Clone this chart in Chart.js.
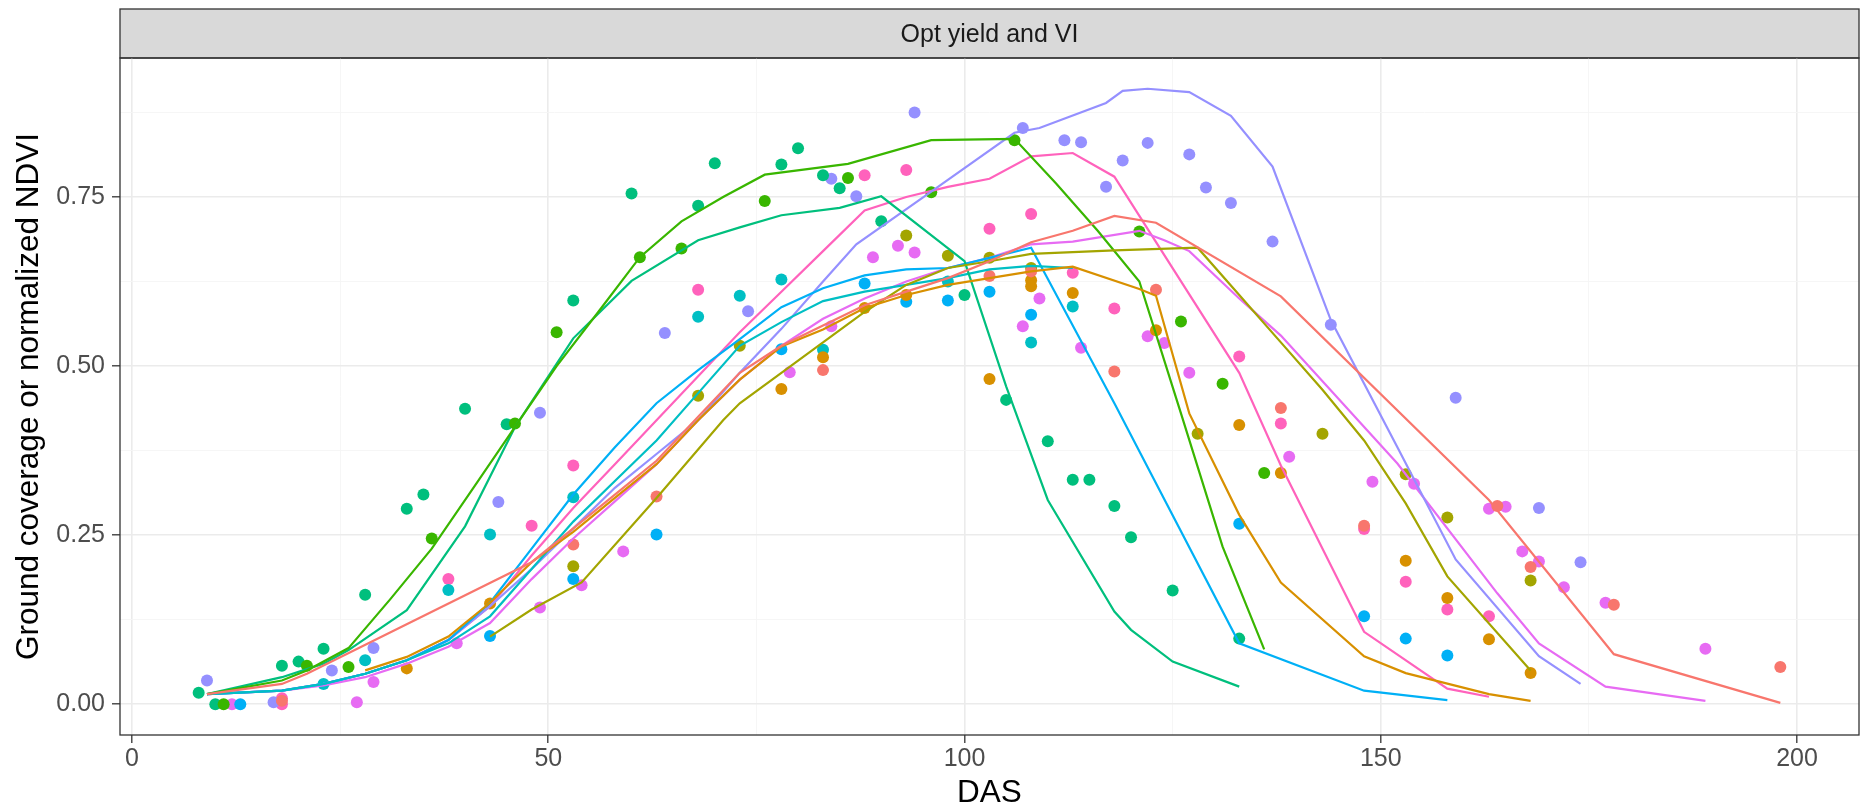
<!DOCTYPE html>
<html>
<head>
<meta charset="utf-8">
<script src="https://cdn.jsdelivr.net/npm/chart.js@4.4.1/dist/chart.umd.min.js"></script>
<style>
  html, body { margin: 0; padding: 0; background: #fff; }
  canvas { display: block; }
</style>
</head>
<body>
<canvas id="chart" width="1865" height="809"></canvas>
<script>
// Facet strip and axes
const STRIP_LABEL = 'Opt yield and VI';
const X_TITLE = 'DAS';
const Y_TITLE = 'Ground coverage or normalized NDVI';
const X_TICKS = [0, 25, 50, 75, 100, 125, 150, 175, 200];
const X_MAJOR = [0, 50, 100, 150, 200];
const Y_TICKS = [0, 0.125, 0.25, 0.375, 0.5, 0.625, 0.75, 0.875];
const Y_MAJOR = [0, 0.25, 0.5, 0.75];

// ggplot hue palette, 10 groups
const COLORS = ['#F8766D', '#D89000', '#A3A500', '#39B600', '#00BF7D',
                '#00BFC4', '#00B0F6', '#9590FF', '#E76BF3', '#FF62BC'];

// simulated curves [DAS, value]
const simRed = [[9,0.015],[18,0.03],[21,0.045],[48,0.21],[53,0.26],[58,0.31],[63,0.36],[68,0.425],[73,0.49],[78,0.53],[83,0.56],[88,0.59],[93,0.61],[98,0.63],[103,0.655],[108,0.683],[113,0.70],[118,0.722],[123,0.712],[138,0.603],[163,0.302],[178,0.074],[198,0.002]];
const simOrange = [[28,0.05],[33,0.07],[38,0.10],[43,0.15],[48,0.21],[53,0.255],[58,0.305],[63,0.355],[68,0.42],[73,0.48],[78,0.529],[83,0.554],[88,0.586],[93,0.605],[98,0.62],[103,0.63],[108,0.64],[113,0.647],[121,0.614],[123,0.604],[127,0.43],[133,0.28],[138,0.18],[148,0.071],[153,0.046],[163,0.015],[168,0.005]];
const simOlive = [[43,0.10],[48,0.14],[54,0.18],[63,0.305],[71,0.42],[73,0.445],[78,0.49],[83,0.535],[88,0.58],[93,0.62],[98,0.645],[103,0.655],[108,0.666],[118,0.671],[128,0.675],[133,0.605],[138,0.535],[143,0.465],[148,0.39],[153,0.297],[158,0.189],[168,0.05]];
const simGreen = [[9,0.015],[18,0.035],[21,0.05],[26,0.083],[31,0.155],[36,0.23],[41,0.32],[46,0.41],[51,0.50],[56,0.58],[61,0.661],[66,0.714],[71,0.75],[76,0.783],[86,0.799],[96,0.834],[106,0.836],[111,0.77],[116,0.70],[121,0.625],[126,0.43],[131,0.233],[136,0.081]];
const simTeal = [[9,0.015],[18,0.04],[23,0.06],[26,0.08],[33,0.139],[40,0.263],[46,0.41],[53,0.541],[60,0.626],[68,0.686],[73,0.705],[78,0.723],[85,0.734],[90,0.751],[100,0.655],[105,0.47],[110,0.302],[118,0.137],[120,0.11],[125,0.063],[133,0.026]];
const simCyan = [[9,0.015],[18,0.02],[23,0.03],[28,0.045],[33,0.065],[38,0.09],[43,0.13],[48,0.2],[53,0.27],[58,0.33],[63,0.39],[68,0.46],[73,0.53],[78,0.565],[83,0.596],[88,0.61],[93,0.62],[98,0.63],[103,0.643],[108,0.648],[113,0.645]];
const simBlue = [[9,0.015],[18,0.02],[23,0.03],[28,0.045],[33,0.065],[38,0.095],[43,0.15],[48,0.23],[53,0.31],[58,0.38],[63,0.445],[68,0.494],[73,0.54],[78,0.587],[83,0.615],[88,0.634],[93,0.643],[98,0.645],[103,0.66],[108,0.675],[118,0.445],[133,0.09],[148,0.02],[158,0.006]];
const simPurple = [[9,0.015],[18,0.02],[23,0.03],[28,0.045],[33,0.065],[38,0.095],[43,0.145],[48,0.2],[53,0.26],[58,0.32],[63,0.37],[68,0.42],[73,0.49],[78,0.555],[83,0.625],[87,0.68],[96,0.758],[106,0.845],[109,0.852],[117,0.889],[119,0.907],[122,0.91],[127,0.905],[132,0.87],[137,0.795],[144,0.568],[152,0.38],[159,0.214],[169,0.071],[174,0.03]];
const simMagenta = [[9,0.015],[18,0.02],[23,0.028],[28,0.04],[33,0.06],[38,0.085],[43,0.12],[48,0.185],[53,0.245],[58,0.30],[63,0.355],[68,0.42],[73,0.48],[78,0.53],[83,0.57],[88,0.60],[93,0.625],[98,0.645],[103,0.66],[108,0.68],[113,0.684],[121,0.70],[124,0.686],[127,0.67],[133,0.60],[138,0.545],[152,0.356],[164,0.164],[169,0.09],[177,0.026],[189,0.005]];
const simPink = [[9,0.015],[18,0.02],[23,0.03],[28,0.045],[33,0.065],[38,0.095],[43,0.145],[48,0.22],[53,0.29],[58,0.355],[63,0.42],[68,0.485],[73,0.55],[78,0.61],[83,0.67],[88,0.73],[93,0.75],[98,0.765],[103,0.777],[108,0.81],[113,0.815],[118,0.78],[133,0.49],[138,0.353],[148,0.107],[158,0.023],[163,0.011]];

// observed points [DAS, value]
const obsRed = [[18,0.005],[53,0.236],[63,0.307],[83,0.494],[103,0.633],[108,0.64],[118,0.492],[123,0.613],[138,0.438],[148,0.264],[164,0.293],[168,0.203],[178,0.147],[198,0.055]];
const obsOrange = [[33,0.053],[43,0.149],[78,0.466],[83,0.513],[88,0.586],[93,0.605],[103,0.481],[108,0.627],[108,0.618],[113,0.608],[123,0.553],[133,0.413],[138,0.342],[153,0.212],[158,0.157],[163,0.096],[168,0.046]];
const obsOlive = [[53,0.204],[68,0.456],[73,0.53],[93,0.693],[98,0.663],[103,0.66],[108,0.645],[128,0.40],[143,0.40],[153,0.34],[158,0.276],[168,0.183]];
const obsGreen = [[11,0],[21,0.057],[26,0.055],[36,0.245],[46,0.415],[51,0.55],[61,0.661],[66,0.674],[76,0.744],[86,0.778],[96,0.757],[106,0.834],[121,0.699],[126,0.566],[131,0.474],[136,0.342]];
const obsTeal = [[8,0.017],[10,0],[18,0.057],[20,0.063],[23,0.082],[28,0.162],[33,0.289],[35,0.31],[40,0.437],[45,0.414],[53,0.597],[60,0.755],[68,0.737],[70,0.80],[78,0.798],[80,0.822],[83,0.782],[85,0.763],[90,0.714],[100,0.605],[105,0.45],[110,0.389],[113,0.332],[115,0.332],[118,0.293],[120,0.247],[125,0.168],[133,0.097]];
const obsCyan = [[23,0.03],[28,0.065],[38,0.169],[43,0.251],[53,0.306],[68,0.573],[73,0.604],[78,0.628],[83,0.524],[98,0.625],[108,0.535],[113,0.588]];
const obsBlue = [[13,0],[43,0.101],[53,0.185],[63,0.251],[78,0.525],[88,0.622],[93,0.595],[98,0.597],[103,0.61],[108,0.576],[133,0.267],[148,0.13],[153,0.097],[158,0.072]];
const obsPurple = [[9,0.035],[17,0.003],[24,0.05],[29,0.083],[44,0.299],[49,0.431],[64,0.549],[74,0.581],[84,0.777],[87,0.751],[94,0.875],[107,0.852],[112,0.834],[114,0.831],[117,0.765],[119,0.804],[122,0.83],[127,0.813],[129,0.764],[132,0.741],[137,0.684],[144,0.561],[159,0.453],[169,0.29],[174,0.21]];
const obsMagenta = [[12,0],[27,0.003],[29,0.033],[39,0.09],[49,0.143],[54,0.176],[59,0.226],[79,0.491],[84,0.559],[89,0.661],[92,0.678],[94,0.668],[107,0.559],[109,0.60],[114,0.527],[122,0.544],[124,0.534],[127,0.49],[139,0.366],[149,0.329],[154,0.326],[163,0.289],[165,0.292],[167,0.226],[169,0.211],[172,0.173],[177,0.15],[189,0.082]];
const obsPink = [[18,0],[18,0.009],[38,0.185],[48,0.264],[53,0.353],[68,0.613],[88,0.782],[93,0.79],[103,0.703],[108,0.725],[113,0.638],[118,0.585],[133,0.514],[138,0.415],[148,0.259],[153,0.181],[158,0.14],[163,0.13]];

const SIM = [simRed, simOrange, simOlive, simGreen, simTeal, simCyan, simBlue, simPurple, simMagenta, simPink];
const OBS = [obsRed, obsOrange, obsOlive, obsGreen, obsTeal, obsCyan, obsBlue, obsPurple, obsMagenta, obsPink];

const FONT = "'Liberation Sans', Arial, Helvetica, sans-serif";
const TICK_SIZE = 25;
const TITLE_SIZE = 31.5;
Chart.defaults.font.family = FONT;

const toXY = arr => arr.map(p => ({ x: p[0], y: p[1] }));

const datasets = [];
OBS.forEach((pts, i) => {
    datasets.push({
        data: toXY(pts),
        showLine: false,
        pointRadius: 6,
        pointBorderWidth: 0,
        pointBackgroundColor: COLORS[i],
        pointBorderColor: COLORS[i],
        order: 2
    });
});
SIM.forEach((pts, i) => {
    datasets.push({
        data: toXY(pts),
        showLine: true,
        borderColor: COLORS[i],
        borderWidth: 2.2,
        pointRadius: 0,
        tension: 0,
        order: 1
    });
});

// strip on top and panel border
const facetPlugin = {
    id: 'facet',
    beforeDraw(chart) {
        const { ctx, chartArea } = chart;
        ctx.save();
        ctx.fillStyle = '#D9D9D9';
        ctx.fillRect(chartArea.left, 9, chartArea.right - chartArea.left, chartArea.top - 9);
        ctx.strokeStyle = '#333333';
        ctx.lineWidth = 1.3;
        ctx.strokeRect(chartArea.left, 9, chartArea.right - chartArea.left, chartArea.top - 9);
        ctx.fillStyle = '#1A1A1A';
        ctx.font = TICK_SIZE + 'px ' + FONT;
        ctx.textAlign = 'center';
        ctx.textBaseline = 'alphabetic';
        ctx.fillText(STRIP_LABEL, (chartArea.left + chartArea.right) / 2, 42);
        ctx.restore();
    },
    afterDraw(chart) {
        const { ctx, chartArea } = chart;
        ctx.save();
        ctx.strokeStyle = '#333333';
        ctx.lineWidth = 1.3;
        ctx.strokeRect(chartArea.left, chartArea.top, chartArea.right - chartArea.left, chartArea.bottom - chartArea.top);
        ctx.restore();
    }
};

function gridFor(major) {
    return {
        color: c => (c.tick && major.includes(c.tick.value)) ? '#EBEBEB' : '#F5F5F5',
        lineWidth: c => (c.tick && major.includes(c.tick.value)) ? 1.6 : 0.9,
        tickColor: c => (c.tick && major.includes(c.tick.value)) ? '#333333' : 'rgba(0,0,0,0)',
        tickLength: 8,
        tickWidth: 1.3
    };
}

new Chart(document.getElementById('chart').getContext('2d'), {
    type: 'scatter',
    data: { datasets: datasets },
    options: {
        responsive: false,
        animation: false,
        layout: { padding: { top: 58, right: 3, left: 0, bottom: 0 } },
        plugins: { legend: { display: false }, tooltip: { enabled: false } },
        scales: {
            x: {
                type: 'linear',
                min: -1.45,
                max: 207.45,
                afterBuildTicks: s => { s.ticks = X_TICKS.map(v => ({ value: v })); },
                afterFit: s => { s.height = 74; },
                border: { display: false },
                grid: gridFor(X_MAJOR),
                ticks: {
                    autoSkip: false,
                    maxRotation: 0,
                    padding: 1,
                    color: '#4D4D4D',
                    font: { size: TICK_SIZE },
                    callback: v => X_MAJOR.includes(v) ? String(v) : ''
                },
                title: {
                    display: true,
                    text: X_TITLE,
                    color: '#000000',
                    font: { size: TITLE_SIZE, lineHeight: 1 },
                    padding: { top: 0, bottom: 0 }
                }
            },
            y: {
                type: 'linear',
                min: -0.0455,
                max: 0.9555,
                afterBuildTicks: s => { s.ticks = Y_TICKS.map(v => ({ value: v })); },
                afterFit: s => { s.width = 120; },
                border: { display: false },
                grid: gridFor(Y_MAJOR),
                ticks: {
                    autoSkip: false,
                    padding: 7,
                    color: '#4D4D4D',
                    font: { size: TICK_SIZE },
                    callback: v => Y_MAJOR.includes(v) ? v.toFixed(2) : ''
                },
                title: {
                    display: true,
                    text: Y_TITLE,
                    color: '#000000',
                    font: { size: TITLE_SIZE, lineHeight: 1 },
                    padding: { top: 14, bottom: 0 }
                }
            }
        }
    },
    plugins: [facetPlugin]
});
</script>
</body>
</html>
